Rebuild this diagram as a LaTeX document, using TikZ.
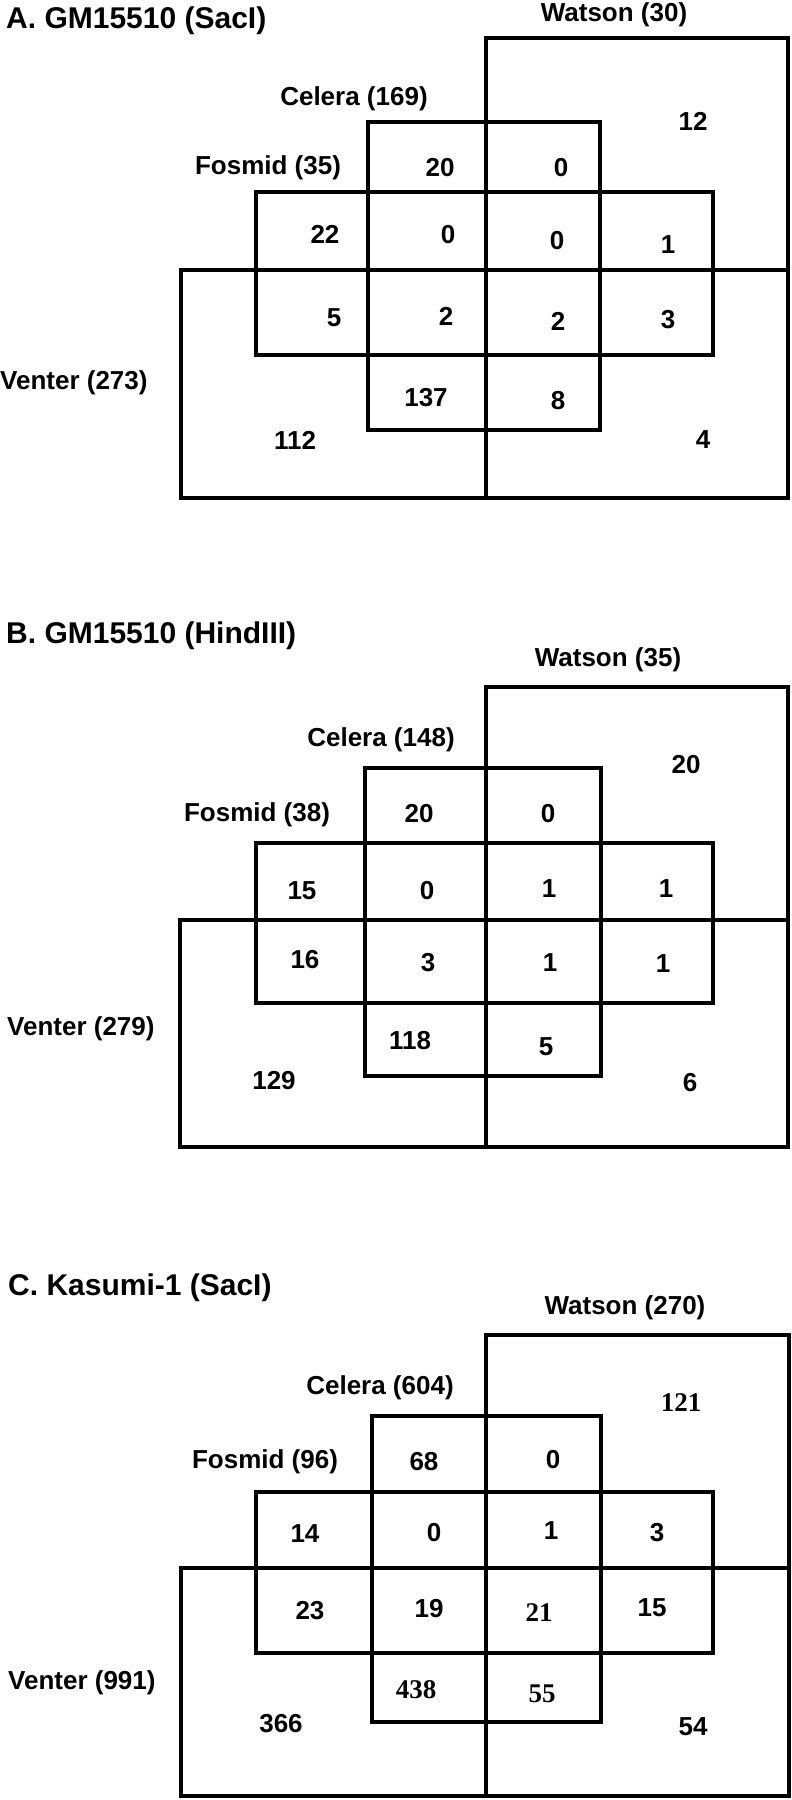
\documentclass[tikz,border=0pt]{standalone}
\usepackage{fontspec}
\setmainfont{Liberation Sans}
\newfontfamily\serifdigits{Liberation Serif}
\usepackage{tikz}
\usetikzlibrary{positioning}

\tikzset{
	setline/.style={line width=4.5pt},
	num/.style={inner sep=0pt, font=\bfseries\fontsize{26}{30}\selectfont},
	snum/.style={inner sep=0pt, font=\serifdigits\bfseries\fontsize{27}{30}\selectfont},
	lab/.style={inner sep=0pt, font=\bfseries\fontsize{26}{30}\selectfont},
	head/.style={inner sep=0pt, anchor=west, font=\bfseries\fontsize{30}{34}\selectfont}
}

\begin{document}
\begin{tikzpicture}[x=1pt, y=-1pt]
	\useasboundingbox (0,0) rectangle (792,1800);

	% A. GM15510 (SacI)
	\coordinate (WA1) at (486,38);
	\coordinate (WA2) at (788,498);
	\coordinate (VA1) at (181,270);
	\coordinate (VA2) at (788,498);
	\coordinate (CA1) at (368,122);
	\coordinate (CA2) at (600,430);
	\coordinate (FA1) at (256,192);
	\coordinate (FA2) at (713,355);
	\draw[setline] (WA1) rectangle (WA2);
	\draw[setline] (VA1) rectangle (VA2);
	\draw[setline] (CA1) rectangle (CA2);
	\draw[setline] (FA1) rectangle (FA2);
	\node[head] (headA) at (6,21) {A. GM15510 (SacI)};
	\node[lab] (watA) at (614,15) {Watson (30)};
	\node[lab] (celA) at (354,99) {Celera (169)};
	\node[lab] (fosA) at (268,168) {Fosmid (35)};
	\node[lab, anchor=west] (venA) at (0,383) {Venter (273)};
	\node[num] (a1) at (693,121) {12};
	\node[num] (a2) at (440,168) {20};
	\node[num] (a3) at (561,168) {0};
	\node[num] (a4) at (325,234) {22};
	\node[num] (a5) at (448,235) {0};
	\node[num] (a6) at (557,241) {0};
	\node[num] (a7) at (668,245) {1};
	\node[num] (a8) at (334,318) {5};
	\node[num] (a9) at (446,316) {2};
	\node[num] (a10) at (558,321) {2};
	\node[num] (a11) at (668,320) {3};
	\node[num] (a12) at (426,398) {137};
	\node[num] (a13) at (558,401) {8};
	\node[num] (a14) at (295,440) {112};
	\node[num] (a15) at (703,440) {4};

	% B. GM15510 (HindIII)
	\coordinate (WB1) at (486,687);
	\coordinate (WB2) at (788,1147);
	\coordinate (VB1) at (180,920);
	\coordinate (VB2) at (788,1147);
	\coordinate (CB1) at (365,768);
	\coordinate (CB2) at (601,1076);
	\coordinate (FB1) at (256,843);
	\coordinate (FB2) at (713,1003);
	\draw[setline] (WB1) rectangle (WB2);
	\draw[setline] (VB1) rectangle (VB2);
	\draw[setline] (CB1) rectangle (CB2);
	\draw[setline] (FB1) rectangle (FB2);
	\node[head] (headB) at (6,636) {B. GM15510 (HindIII)};
	\node[lab] (watB) at (608,660) {Watson (35)};
	\node[lab] (celB) at (381,740) {Celera (148)};
	\node[lab] (fosB) at (257,815) {Fosmid (38)};
	\node[lab, anchor=west] (venB) at (7,1029) {Venter (279)};
	\node[num] (b1) at (686,765) {20};
	\node[num] (b2) at (419,814) {20};
	\node[num] (b3) at (548,814) {0};
	\node[num] (b4) at (302,891) {15};
	\node[num] (b5) at (427,891) {0};
	\node[num] (b6) at (549,889) {1};
	\node[num] (b7) at (666,889) {1};
	\node[num] (b8) at (305,960) {16};
	\node[num] (b9) at (428,963) {3};
	\node[num] (b10) at (550,963) {1};
	\node[num] (b11) at (663,964) {1};
	\node[num] (b12) at (410,1041) {118};
	\node[num] (b13) at (546,1047) {5};
	\node[num] (b14) at (274,1081) {129};
	\node[num] (b15) at (690,1083) {6};

	% C. Kasumi-1 (SacI)
	\coordinate (WC1) at (486,1335);
	\coordinate (WC2) at (789,1796);
	\coordinate (VC1) at (181,1568);
	\coordinate (VC2) at (789,1796);
	\coordinate (CC1) at (372,1416);
	\coordinate (CC2) at (601,1722);
	\coordinate (FC1) at (256,1492);
	\coordinate (FC2) at (713,1653);
	\draw[setline] (WC1) rectangle (WC2);
	\draw[setline] (VC1) rectangle (VC2);
	\draw[setline] (CC1) rectangle (CC2);
	\draw[setline] (FC1) rectangle (FC2);
	\node[head] (headC) at (8,1288) {C. Kasumi-1 (SacI)};
	\node[lab] (watC) at (625,1308) {Watson (270)};
	\node[lab] (celC) at (380,1388) {Celera (604)};
	\node[lab] (fosC) at (265,1462) {Fosmid (96)};
	\node[lab, anchor=west] (venC) at (8,1683) {Venter (991)};
	\node[snum] (c1) at (681,1403) {121};
	\node[num] (c2) at (424,1462) {68};
	\node[num] (c3) at (553,1460) {0};
	\node[num] (c4) at (305,1534) {14};
	\node[num] (c5) at (434,1533) {0};
	\node[num] (c6) at (551,1531) {1};
	\node[num] (c7) at (657,1533) {3};
	\node[num] (c8) at (310,1611) {23};
	\node[num] (c9) at (429,1609) {19};
	\node[snum] (c10) at (539,1613) {21};
	\node[num] (c11) at (652,1608) {15};
	\node[snum] (c12) at (416,1690) {438};
	\node[snum] (c13) at (542,1694) {55};
	\node[num] (c14) at (281,1724) {366};
	\node[num] (c15) at (693,1727) {54};
\end{tikzpicture}
\end{document}
